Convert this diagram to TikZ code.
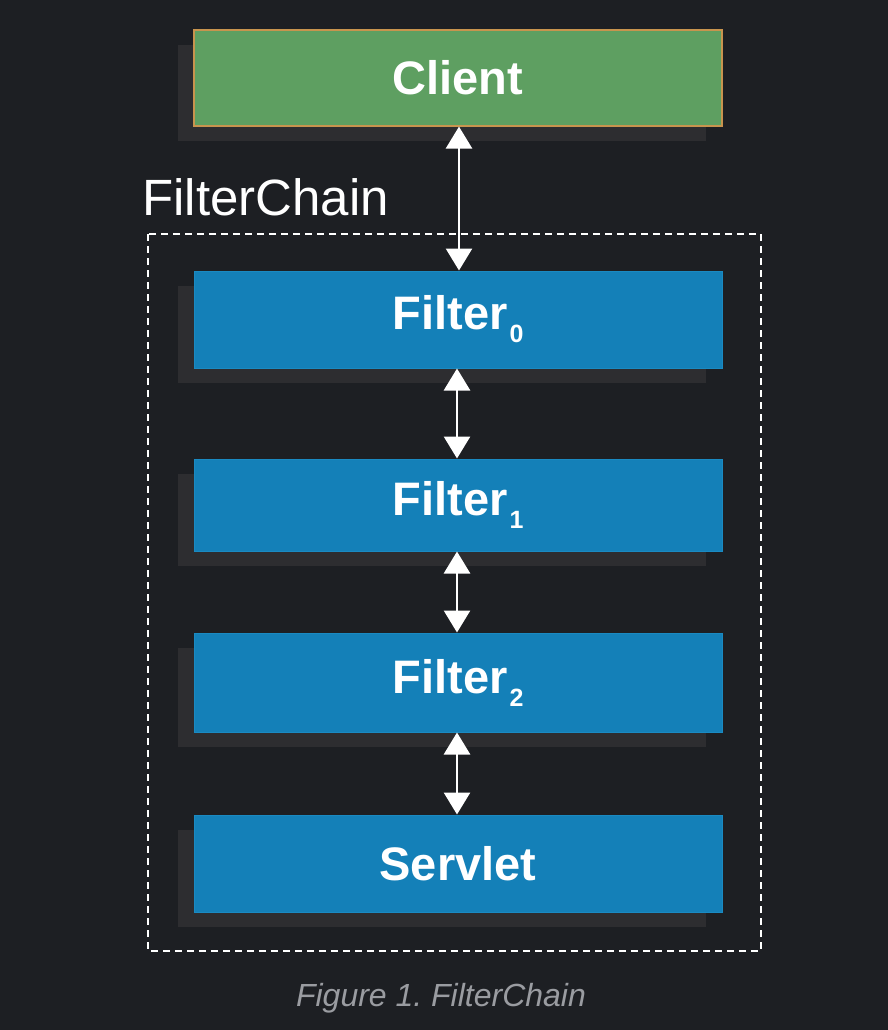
\documentclass[tikz,border=0pt]{standalone}
\usepackage{fontspec}
\setmainfont{Liberation Sans}
\usetikzlibrary{shadows,arrows.meta}
\definecolor{bgcol}{HTML}{1D1F23}
\definecolor{shadcol}{HTML}{2D2D30}
\definecolor{greencol}{HTML}{5E9F61}
\definecolor{greenbord}{HTML}{C8944E}
\definecolor{bluecol}{HTML}{1480B8}
\definecolor{bluebord}{HTML}{1A8AC2}
\definecolor{capcol}{HTML}{9A9CA1}
\newcommand{\fsub}[1]{\kern2pt\raisebox{-13pt}{\fontsize{25}{25}\selectfont #1}}
\tikzset{
  boxbase/.style={minimum width=528pt, minimum height=96pt, inner sep=0pt,
    text=white, font=\fontsize{47}{56}\selectfont\bfseries,
    general shadow={shadow xshift=-16pt, shadow yshift=-15pt, fill=shadcol, rounded corners=2pt}},
  clientbox/.style={boxbase, fill=greencol, draw=greenbord, line width=1.2pt},
  bluebox/.style={boxbase, fill=bluecol, draw=bluebord, line width=1pt},
  link/.style={white, line width=2.8pt, {Triangle[width=26pt,length=22pt]}-{Triangle[width=26pt,length=22pt]}},
  chainframe/.style={white, line width=2pt, dash pattern=on 7pt off 5pt},
}
\begin{document}
\begin{tikzpicture}[x=1pt,y=-1pt]
\fill[bgcol] (0,0) rectangle (888,1030);
\useasboundingbox (0,0) rectangle (888,1030);
\draw[chainframe] (148,234) rectangle (761,951);
\node[anchor=base west, text=white, font=\fontsize{51}{60}\selectfont, inner sep=0pt] (lbl) at (142,215) {FilterChain};
\node[clientbox] (client) at (458,78) {Client};
\node[bluebox, minimum height=97pt] (f0) at (458,319.5) {Filter\fsub{0}};
\node[bluebox, minimum height=92pt] (f1) at (458,505) {Filter\fsub{1}};
\node[bluebox, minimum height=99pt] (f2) at (458,682.5) {Filter\fsub{2}};
\node[bluebox, minimum height=97pt] (sv) at (458,863.5) {Servlet};
\draw[link] ([xshift=1pt]client.south) -- ([xshift=1pt]f0.north);
\draw[link] ([xshift=-1pt]f0.south) -- ([xshift=-1pt]f1.north);
\draw[link] ([xshift=-1pt]f1.south) -- ([xshift=-1pt]f2.north);
\draw[link] ([xshift=-1pt]f2.south) -- ([xshift=-1pt]sv.north);
\node[anchor=base, text=capcol, font=\fontsize{32}{37}\selectfont\itshape, inner sep=0pt] (cap) at (441,1006) {\frenchspacing Figure 1. FilterChain};
\end{tikzpicture}
\end{document}
